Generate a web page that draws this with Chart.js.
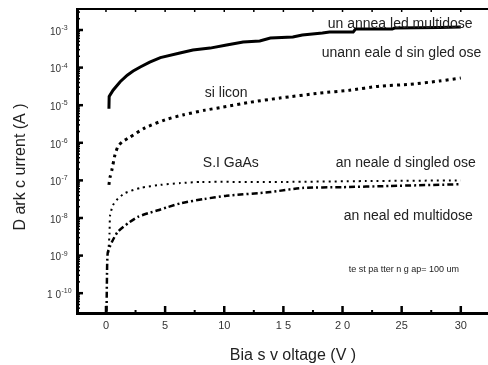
<!DOCTYPE html>
<html lang="en">
<head>
<meta charset="UTF-8">
<title>Dark current vs bias voltage</title>
<script src="https://cdn.jsdelivr.net/npm/chart.js"></script>
<style>
  html, body { margin: 0; padding: 0; background: #fff; }
  #chartContainer { width: 488px; height: 365px; }
</style>
</head>
<body>
<div id="chartContainer"><canvas id="darkCurrentChart" width="488" height="365"></canvas></div>
<script>
// unannealed multidose (V, A)
const umdV = [0.25, 0.27, 0.6, 1.2, 1.8, 2.3, 2.9, 3.7, 4.6, 6.25, 7.35, 8.8, 10.2, 11.6, 13.0, 13.9, 15.8, 16.6, 18.3, 18.9, 20.9, 21.1, 24.2, 24.4, 28.2, 30];
const umdI = [8e-6, 1.7e-5, 2.5e-5, 4.2e-5, 6.3e-5, 8.1e-5, 1.04e-4, 1.4e-4, 1.85e-4, 2.45e-4, 2.94e-4, 3.3e-4, 4.0e-4, 4.8e-4, 5.1e-4, 6.1e-4, 6.5e-4, 7.4e-4, 8.3e-4, 8.8e-4, 8.8e-4, 1.06e-3, 1.06e-3, 1.13e-3, 1.17e-3, 1.2e-3];

// unannealed singledose
const usdV = [0.25, 0.34, 0.5, 0.76, 1.0, 1.35, 2.0, 3.3, 5.0, 6.5, 8.4, 9.9, 12.2, 14.7, 18.1, 20.6, 23.1, 25.7, 28.2, 30];
const usdI = [7.6e-8, 1.2e-7, 1.9e-7, 4.8e-7, 7.8e-7, 1.05e-6, 1.4e-6, 2.5e-6, 4.1e-6, 5.5e-6, 7.4e-6, 8.9e-6, 1.2e-5, 1.55e-5, 2.1e-5, 2.5e-5, 3.2e-5, 3.6e-5, 4.4e-5, 5.3e-5];

// annealed singledose
const asdV = [0.2, 0.3, 0.35, 0.6, 0.9, 1.6, 2.9, 4.6, 6.3, 8.0, 15, 22, 30];
const asdI = [1.2e-9, 4e-9, 1.2e-8, 2.2e-8, 3e-8, 4.6e-8, 6.3e-8, 7.6e-8, 8.5e-8, 9.1e-8, 9.1e-8, 9.6e-8, 1.0e-7];

// annealed multidose
const amdV = [0.05, 0.08, 0.15, 0.5, 1.0, 1.9, 2.7, 3.6, 4.4, 5.2, 6.4, 8.3, 10.2, 13.9, 16.6, 20, 24, 30];
const amdI = [3.2e-11, 2.2e-10, 1.2e-9, 2.3e-9, 4.3e-9, 7.4e-9, 1.07e-8, 1.35e-8, 1.6e-8, 1.94e-8, 2.5e-8, 3.2e-8, 3.9e-8, 4.9e-8, 6.3e-8, 6.6e-8, 7.1e-8, 7.9e-8];

// axis ticks
const xTicks = [0, 5, 10, 15, 20, 25, 30];
const xTickLabels = ['0', '5', '10', '1 5', '2 0', '25', '30'];
const yTickExps = [-3, -4, -5, -6, -7, -8, -9, -10];
const yTickBases = ['10', '10', '10', '10', '10', '10', '10', '1 0'];

// in-plot labels: text, left edge (V), baseline (A)
const noteText = ['un annea led multidose', 'unann eale d sin gled ose', 'si licon', 'S.I GaAs',
                  'an neale d singled ose', 'an neal ed multidose', 'te st pa tter n g ap= 100 um'];
const noteV = [18.75, 18.24, 8.36, 8.19, 19.43, 20.1, 20.52];
const noteI = [1.1e-3, 1.91e-4, 1.66e-5, 2.27e-7, 2.27e-7, 8.85e-9, 3.66e-10];
const noteSize = [14, 14, 14, 14, 14, 14, 9];

const pts = (v, i) => v.map((x, k) => ({ x: x, y: i[k] }));

const axisDecor = {
    id: 'axisDecor',
    afterDraw(chart) {
        const c = chart.ctx;
        const a = chart.chartArea;
        const xs = chart.scales.x;
        const ys = chart.scales.y;
        c.save();
        c.strokeStyle = '#000';
        c.fillStyle = '#000';

        // top frame line with small ticks
        c.lineWidth = 2;
        c.beginPath();
        c.moveTo(a.left, a.top);
        c.lineTo(a.right, a.top);
        c.stroke();
        c.lineWidth = 1.5;
        for (let v = 0; v <= 32.5; v += 2.5) {
            const px = xs.getPixelForValue(v);
            if (px > a.right) break;
            c.beginPath();
            c.moveTo(px, a.top);
            c.lineTo(px, a.top + 3);
            c.stroke();
        }

        // bottom ticks, pointing inward
        xTicks.forEach(v => {
            const px = xs.getPixelForValue(v);
            c.lineWidth = 2.5;
            c.beginPath();
            c.moveTo(px, a.bottom);
            c.lineTo(px, a.bottom - 7);
            c.stroke();
            if (v < 30) {
                const mx = xs.getPixelForValue(v + 2.5);
                c.lineWidth = 2;
                c.beginPath();
                c.moveTo(mx, a.bottom);
                c.lineTo(mx, a.bottom - 3);
                c.stroke();
            }
        });

        // left ticks: decades and minor 2..9
        for (let e = -11; e <= -3; e++) {
            const major = ys.getPixelForValue(Math.pow(10, e));
            if (major >= a.top && major <= a.bottom) {
                c.lineWidth = 2.5;
                c.beginPath();
                c.moveTo(a.left, major);
                c.lineTo(a.left + 6, major);
                c.stroke();
            }
            for (let m = 2; m <= 9; m++) {
                const py = ys.getPixelForValue(m * Math.pow(10, e));
                if (py < a.top || py > a.bottom) continue;
                c.lineWidth = 1.5;
                c.beginPath();
                c.moveTo(a.left, py);
                c.lineTo(a.left + 3, py);
                c.stroke();
            }
        }

        // y tick labels with superscript exponents
        c.fillStyle = '#333';
        yTickExps.forEach((e, k) => {
            const py = ys.getPixelForValue(Math.pow(10, e));
            c.font = '10px "Liberation Sans", Arial, sans-serif';
            c.textAlign = 'right';
            c.textBaseline = 'middle';
            c.fillText(yTickBases[k], 61, py + 2);
            c.font = '7px "Liberation Sans", Arial, sans-serif';
            c.textAlign = 'left';
            c.fillText(String(e), 61.5, py - 2);
        });

        // x tick labels
        c.font = '11px "Liberation Sans", Arial, sans-serif';
        c.textAlign = 'center';
        c.textBaseline = 'middle';
        xTicks.forEach((v, k) => {
            c.fillText(xTickLabels[k], xs.getPixelForValue(v), a.bottom + 13);
        });

        // axis titles
        c.fillStyle = '#222';
        c.font = '16px "Liberation Sans", Arial, sans-serif';
        c.textAlign = 'center';
        c.textBaseline = 'alphabetic';
        c.fillText('Bia s v oltage (V )', 293, 360);
        c.save();
        c.translate(25, 167);
        c.rotate(-Math.PI / 2);
        c.fillText('D ark c urrent (A )', 0, 0);
        c.restore();

        // in-plot labels
        c.textAlign = 'left';
        noteText.forEach((t, k) => {
            c.font = noteSize[k] + 'px "Liberation Sans", Arial, sans-serif';
            c.fillText(t, xs.getPixelForValue(noteV[k]), ys.getPixelForValue(noteI[k]));
        });
        c.restore();
    }
};

const ctx = document.getElementById('darkCurrentChart').getContext('2d');
new Chart(ctx, {
    type: 'line',
    data: {
        datasets: [
            {
                label: 'unannealed multidose',
                data: pts(umdV, umdI),
                borderColor: '#000',
                borderWidth: 3,
                pointRadius: 0,
                tension: 0
            },
            {
                label: 'unannealed singledose',
                data: pts(usdV, usdI),
                borderColor: '#000',
                borderWidth: 3,
                borderDash: [3, 4],
                pointRadius: 0,
                tension: 0.2
            },
            {
                label: 'annealed singledose',
                data: pts(asdV, asdI),
                borderColor: '#000',
                borderWidth: 2,
                borderDash: [2, 4],
                pointRadius: 0,
                tension: 0.2
            },
            {
                label: 'annealed multidose',
                data: pts(amdV, amdI),
                borderColor: '#000',
                borderWidth: 2.5,
                borderDash: [6, 3, 2, 3],
                pointRadius: 0,
                tension: 0.2
            }
        ]
    },
    options: {
        responsive: false,
        animation: false,
        devicePixelRatio: 1,
        layout: { padding: { top: 9, left: 0, right: 0, bottom: 0 } },
        plugins: {
            legend: { display: false },
            tooltip: { enabled: false }
        },
        scales: {
            x: {
                type: 'linear',
                min: -2.45,
                max: 32.3,
                grid: { display: false },
                border: { display: true, color: '#000', width: 3 },
                ticks: { display: false },
                afterFit: s => { s.height = 52; }
            },
            y: {
                type: 'logarithmic',
                min: 2.97e-11,
                max: 3.62e-3,
                grid: { display: false },
                border: { display: true, color: '#000', width: 3 },
                ticks: { display: false },
                afterFit: s => { s.width = 77; }
            }
        }
    },
    plugins: [axisDecor]
});
</script>
</body>
</html>
